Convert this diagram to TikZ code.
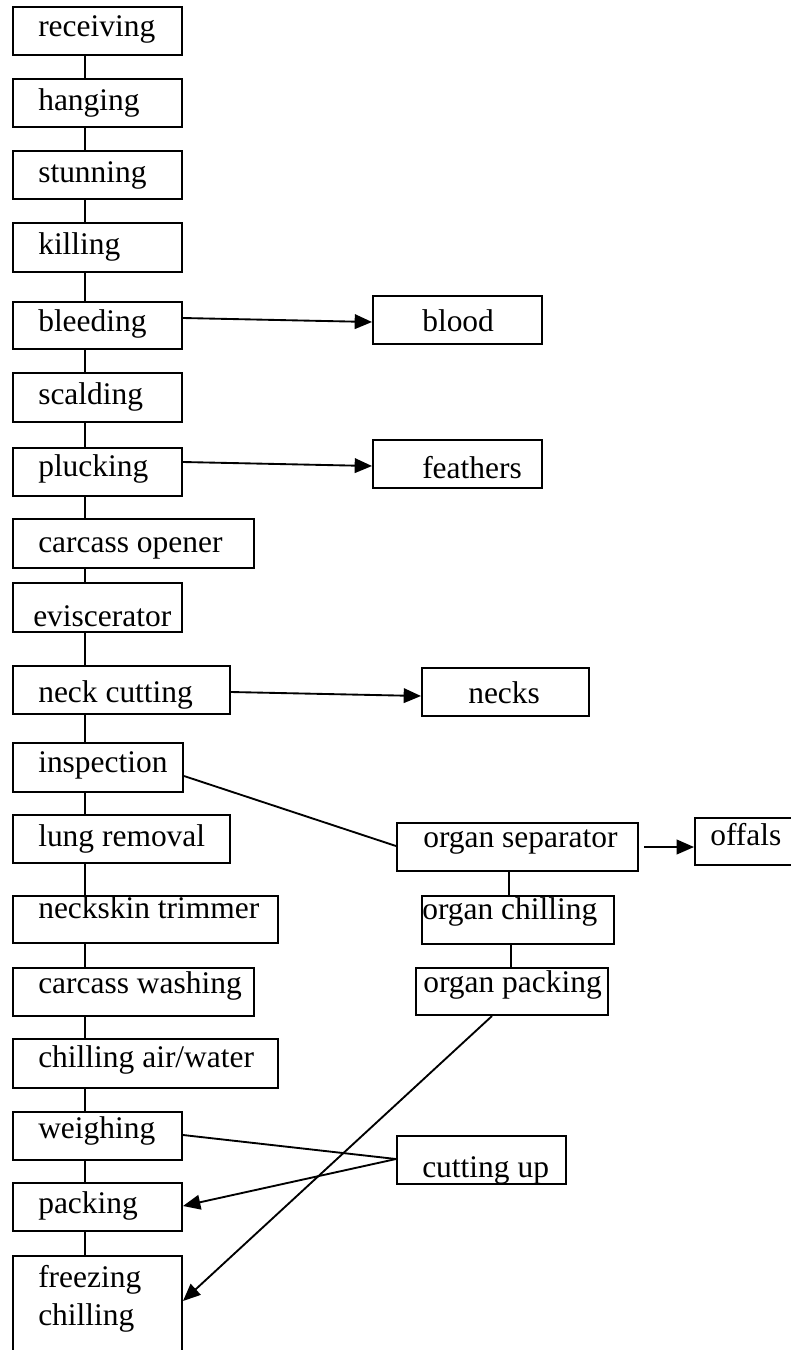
\documentclass[tikz,border=0pt]{standalone}
\usepackage{fontspec}
\setmainfont{Liberation Serif}
\usetikzlibrary{fit,calc,arrows.meta}
\begin{document}
\begin{tikzpicture}[x=0.75pt,y=-0.75pt,
  box/.style={draw,line width=1.5pt,inner sep=0pt},
  lbl/.style={anchor=base west,inner sep=0pt,font=\fontsize{23.6pt}{28pt}\selectfont},
  link/.style={line width=1.4pt},
  arr/.style={line width=1.4pt,-{Triangle[length=13pt,width=11pt]}}]
\useasboundingbox (0,0) rectangle (790,1350);
% left column
\node[box,fit={(13,7)(182,55)}] (rec) {};
\node[lbl] (rect) at (38,36) {receiving};
\node[box,fit={(13,79)(182,127)}] (hang) {};
\node[lbl] (hangt) at (38,110) {hanging};
\node[box,fit={(13,151)(182,199)}] (stun) {};
\node[lbl] (stunt) at (38,182) {stunning};
\node[box,fit={(13,223)(182,272)}] (kill) {};
\node[lbl] (killt) at (38,254) {killing};
\node[box,fit={(13,302)(182,349)}] (bleed) {};
\node[lbl] (bleedt) at (38,331) {bleeding};
\node[box,fit={(13,373)(182,422)}] (scald) {};
\node[lbl] (scaldt) at (38,404) {scalding};
\node[box,fit={(13,448)(182,496)}] (pluck) {};
\node[lbl] (pluckt) at (38,476) {plucking};
\node[box,fit={(13,519)(254,568)}] (open) {};
\node[lbl] (opent) at (38,552) {carcass opener};
\node[box,fit={(13,583)(182,632)}] (evis) {};
\node[lbl] (evist) at (33,626) {eviscerator};
\node[box,fit={(13,666)(230,714)}] (neck) {};
\node[lbl] (neckt) at (38,702) {neck cutting};
\node[box,fit={(13,743)(183,792)}] (insp) {};
\node[lbl] (inspt) at (38,772) {inspection};
\node[box,fit={(13,815)(230,863)}] (lung) {};
\node[lbl] (lungt) at (38,846) {lung removal};
\node[box,fit={(13,896)(278,943)}] (trim) {};
\node[lbl] (trimt) at (38,918) {neckskin trimmer};
\node[box,fit={(13,968)(254,1016)}] (wash) {};
\node[lbl] (washt) at (38,993) {carcass washing};
\node[box,fit={(13,1039)(278,1088)}] (chill) {};
\node[lbl] (chillt) at (38,1067) {chilling air/water};
\node[box,fit={(13,1112)(182,1160)}] (weigh) {};
\node[lbl] (weight) at (38,1138) {weighing};
\node[box,fit={(13,1183)(182,1231)}] (pack) {};
\node[lbl] (packt) at (38,1213) {packing};
\node[box,fit={(13,1256)(182,1370)}] (freeze) {};
\node[lbl] (freezet) at (38,1287) {freezing};
\node[lbl] (freezet2) at (38,1325) {chilling};
% right side
\node[box,fit={(373,296)(542,344)}] (blood) {};
\node[lbl] (bloodt) at (422,331) {blood};
\node[box,fit={(373,440)(542,488)}] (feath) {};
\node[lbl] (featht) at (422,478) {feathers};
\node[box,fit={(422,668)(589,716)}] (necks) {};
\node[lbl] (neckst) at (468,703) {necks};
\node[box,fit={(397,823)(638,871)}] (osep) {};
\node[lbl] (osept) at (423,847) {organ separator};
\node[box,fit={(695,818)(800,865)}] (offal) {};
\node[lbl] (offalt) at (710,845) {offals};
\node[box,fit={(422,896)(614,944)}] (ochill) {};
\node[lbl] (ochillt) at (422,919) {organ chilling};
\node[box,fit={(416,968)(608,1015)}] (opack) {};
\node[lbl] (opackt) at (423,992) {organ packing};
\node[box,fit={(397,1136)(566,1184)}] (cut) {};
\node[lbl] (cutt) at (422,1177) {cutting up};
% vertical connectors
\foreach \a/\b in {rec/hang,hang/stun,stun/kill,kill/bleed,bleed/scald,scald/pluck,pluck/open,open/evis,evis/neck,neck/insp,insp/lung,lung/trim,trim/wash,wash/chill,chill/weigh,weigh/pack,pack/freeze}
  \draw[link] ($(\a.south west)+(73,0)$) -- ($(\b.north west)+(73,0)$);
\draw[link] ($(osep.south west)+(113,0)$) -- ($(ochill.north west)+(88,0)$);
\draw[link] ($(ochill.south west)+(90,0)$) -- ($(opack.north west)+(96,0)$);
% side connectors
\draw[arr] ($(bleed.north east)+(0,17)$) -- ($(blood.north west)+(0,27)$);
\draw[arr] ($(pluck.north east)+(0,15)$) -- ($(feath.north west)+(0,27)$);
\draw[arr] ($(neck.north east)+(0,27)$) -- ($(necks.north west)+(0,29)$);
\draw[link] ($(insp.north east)+(0,34)$) -- ($(osep.north west)+(0,24)$);
\draw[arr] ($(osep.north east)+(5,25)$) -- ($(offal.north west)+(0,30)$);
\draw[arr] ($(opack.south west)+(77,0)$) -- ($(freeze.north east)+(0,46)$);
\draw[link] ($(weigh.north east)+(0,24)$) -- ($(cut.north west)+(0,24)$);
\draw[arr] ($(cut.north west)+(0,24)$) -- ($(pack.north east)+(0,24)$);
\end{tikzpicture}
\end{document}
